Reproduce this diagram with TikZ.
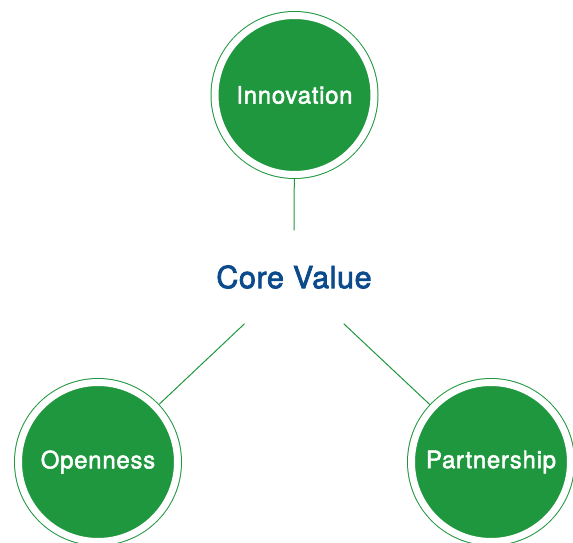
\documentclass[tikz,border=0pt]{standalone}
\usepackage{fontspec}
\setmainfont{TeX Gyre Heros}
\newfontfamily\circlefont[FakeBold=2, LetterSpace=3]{TeX Gyre Heros}
\newfontfamily\corefont[FakeBold=2.5, LetterSpace=2]{TeX Gyre Heros}
\definecolor{valgreen}{HTML}{1F973F}
\definecolor{valblue}{HTML}{0B4A8B}
\tikzset{
  valuenode/.style={circle, fill=valgreen, draw=valgreen, double=white,
    line width=1pt, double distance=7pt, minimum size=159pt, inner sep=0pt,
    outer sep=4.5pt, text=white, font=\circlefont\fontsize{24}{27}\selectfont},
  link/.style={draw=valgreen, line width=1pt}
}
\begin{document}
\begin{tikzpicture}[x=1pt, y=-1pt]
  \useasboundingbox (0,0) rectangle (573,543);

  % Centre label
  \node[rectangle, minimum width=103pt, minimum height=93pt, text=valblue,
    font=\corefont\fontsize{30.5}{34}\selectfont] (core) at (294,277) {Core Value};

  % Value circles
  \node[valuenode] (innovation) at (294.5,95) {Innovation};
  \node[valuenode] (openness) at (98,462) {Openness};
  \node[valuenode] (partnership) at (491,462) {Partnership};

  % Connecting lines
  \draw[link] (innovation) -- (core);
  \draw[link] (openness) -- (core);
  \draw[link] (partnership) -- (core);
\end{tikzpicture}
\end{document}
